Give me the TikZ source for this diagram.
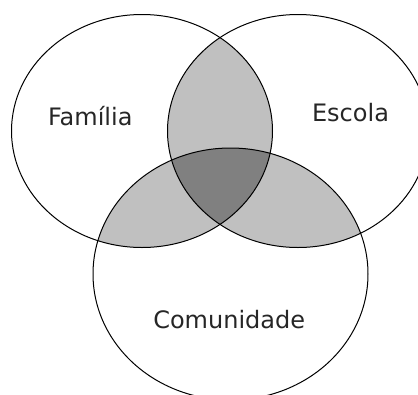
\documentclass[tikz,border=0pt]{standalone}
\usepackage{fontspec}
\setmainfont{DejaVu Sans}
\definecolor{lightshade}{HTML}{C0C0C0}
\definecolor{darkshade}{HTML}{808080}
\tikzset{
  setname/.style={anchor=base, inner sep=0pt, font=\fontsize{24}{28}\selectfont, text=black!85}
}
\def\familia{(142,131) ellipse [x radius=130.5, y radius=116.5]}
\def\escola{(298,131) ellipse [x radius=130.5, y radius=116.5]}
\def\comunidade{(230.5,274) ellipse [x radius=137.5, y radius=126]}
\begin{document}
\begin{tikzpicture}[x=1pt,y=-1pt]
        \useasboundingbox (0,0) rectangle (418,394);
        \clip (0,0) rectangle (418,394);
        % pairwise overlaps
        \begin{scope}
          \clip \familia;
          \fill[lightshade] \escola;
          \fill[lightshade] \comunidade;
        \end{scope}
        \begin{scope}
          \clip \escola;
          \fill[lightshade] \comunidade;
        \end{scope}
        % all three
        \begin{scope}
          \clip \familia;
          \clip \escola;
          \fill[darkshade] \comunidade;
        \end{scope}
        \draw[line width=1pt] \familia;
        \draw[line width=1pt] \escola;
        \draw[line width=1pt] \comunidade;
        \node[setname] (fam) at (90.3,125.7) {Família};
        \node[setname] (esc) at (350.5,121.7) {Escola};
        \node[setname] (com) at (229.2,328.3) {Comunidade};
      \end{tikzpicture}
\end{document}
